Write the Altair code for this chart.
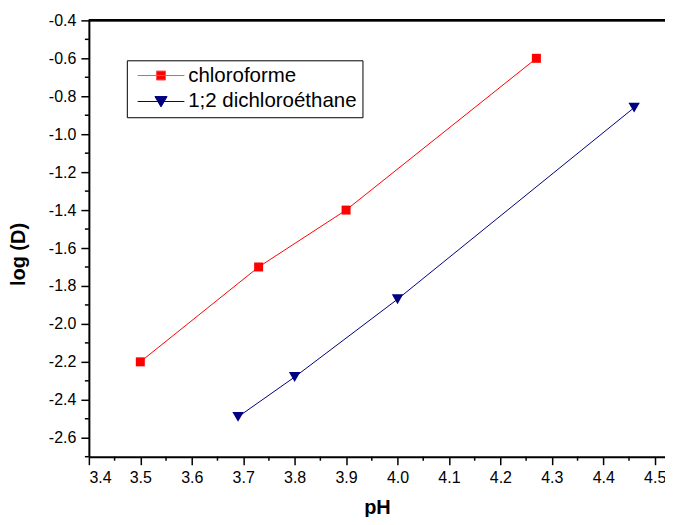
import altair as alt
import pandas as pd

# ---- data ----
series_names = ["chloroforme", "1;2 dichloroéthane"]
chl_ph = [3.5, 3.73, 3.9, 4.27]
chl_logd = [-2.2, -1.7, -1.4, -0.6]
dce_ph = [3.69, 3.8, 4.0, 4.46]
dce_logd = [-2.49, -2.28, -1.87, -0.86]

x_major = [3.4, 3.5, 3.6, 3.7, 3.8, 3.9, 4.0, 4.1, 4.2, 4.3, 4.4, 4.5]
x_minor = [3.45, 3.55, 3.65, 3.75, 3.85, 3.95, 4.05, 4.15, 4.25, 4.35, 4.45]
y_major = [-2.6, -2.4, -2.2, -2.0, -1.8, -1.6, -1.4, -1.2, -1.0, -0.8, -0.6, -0.4]
y_minor = [-2.7, -2.5, -2.3, -2.1, -1.9, -1.7, -1.5, -1.3, -1.1, -0.9, -0.7, -0.5]

RED = "#ff0000"
NAVY = "#000080"
FONT = "Liberation Sans"
W, H = 577, 437

chl = pd.DataFrame({"pH": chl_ph, "logD": chl_logd, "series": series_names[0]})
dce = pd.DataFrame({"pH": dce_ph, "logD": dce_logd, "series": series_names[1]})
both = pd.concat([chl, dce], ignore_index=True)
xminor_df = pd.DataFrame({"pH": x_minor})
yminor_df = pd.DataFrame({"logD": y_minor})

xs = alt.Scale(domain=[3.4, 4.52], nice=False, zero=False)
ys = alt.Scale(domain=[-2.7, -0.4], nice=False, zero=False)

label_expr = "replace(format(datum.value, '.1f'), '\u2212', '-')"

axis_style = dict(grid=False, tickSize=8, tickWidth=1.5, tickColor="black",
                  domainColor="black", domainWidth=2, labelFontSize=16, labelFont=FONT,
                  labelColor="black", labelPadding=5, titleFontSize=20, titleFont=FONT,
                  titleFontWeight="bold", titleColor="black")

x_axis = alt.Axis(values=x_major, labelExpr=label_expr, title="pH",
                  titlePadding=12, **axis_style)
y_axis = alt.Axis(values=y_major, labelExpr=label_expr, title="log (D)",
                  titlePadding=20, titleY=234, **axis_style)

X = alt.X("pH:Q", scale=xs, axis=x_axis)
Y = alt.Y("logD:Q", scale=ys, axis=y_axis)

chl_line = alt.Chart(chl).mark_line(color=RED, strokeWidth=1).encode(x=X, y=Y)
dce_line = alt.Chart(dce).mark_line(color=NAVY, strokeWidth=1).encode(x=X, y=Y)

chl_pts = alt.Chart(chl).mark_point(shape="square", filled=True, size=81, color=RED,
                                    opacity=1).encode(x=X, y=Y)
dce_pts = alt.Chart(dce).mark_point(shape="triangle-down", filled=True, size=130,
                                    color=NAVY, opacity=1).encode(x=X, y=Y)

x_minor_ticks = alt.Chart(xminor_df).mark_rule(color="black", strokeWidth=1.5).encode(
    x=X, y=alt.value(H), y2=alt.value(H + 4),
)
y_minor_ticks = alt.Chart(yminor_df).mark_rule(color="black", strokeWidth=1.5).encode(
    y=Y, x=alt.value(-4), x2=alt.value(0),
)
top_spine = alt.Chart(chl).mark_rule(color="black", strokeWidth=2).encode(
    x=alt.value(0), x2=alt.value(W + 8), y=alt.value(0),
)

sq_path = "M-5.2,0H5.2M-1,-1H1V1H-1Z"
tri_path = "M-5.2,0H5.2M-1.35,-1.1H1.35L0,1.2Z"

leg = alt.Legend(title=None, orient="none", legendX=38, legendY=40,
                 strokeColor="black", padding=5, labelFont=FONT, labelFontSize=20.5,
                 labelColor="black", labelLimit=400, symbolSize=81, symbolStrokeWidth=1,
                 symbolOffset=19, labelOffset=17, rowPadding=5, fillColor="white")

legend_layer = alt.Chart(both).transform_filter("false").mark_point(
    filled=True, strokeWidth=1, opacity=1).encode(
    shape=alt.Shape("series:N", scale=alt.Scale(domain=series_names, range=[sq_path, tri_path]),
                    legend=leg),
    fill=alt.Fill("series:N", scale=alt.Scale(domain=series_names, range=[RED, NAVY]),
                  legend=leg),
    stroke=alt.Stroke("series:N", scale=alt.Scale(domain=series_names, range=["#ff5050", NAVY]),
                      legend=leg),
)

chart = alt.layer(
    chl_line, dce_line, x_minor_ticks, y_minor_ticks, top_spine,
    chl_pts, dce_pts, legend_layer,
).properties(
    width=W, height=H, background="white",
    autosize=alt.AutoSizeParams(type="none"),
    padding={"left": 81, "top": 12, "right": 0, "bottom": 60},
).configure_view(stroke=None)

chart.save("out.html", embed_options={"renderer": "svg", "actions": False})
